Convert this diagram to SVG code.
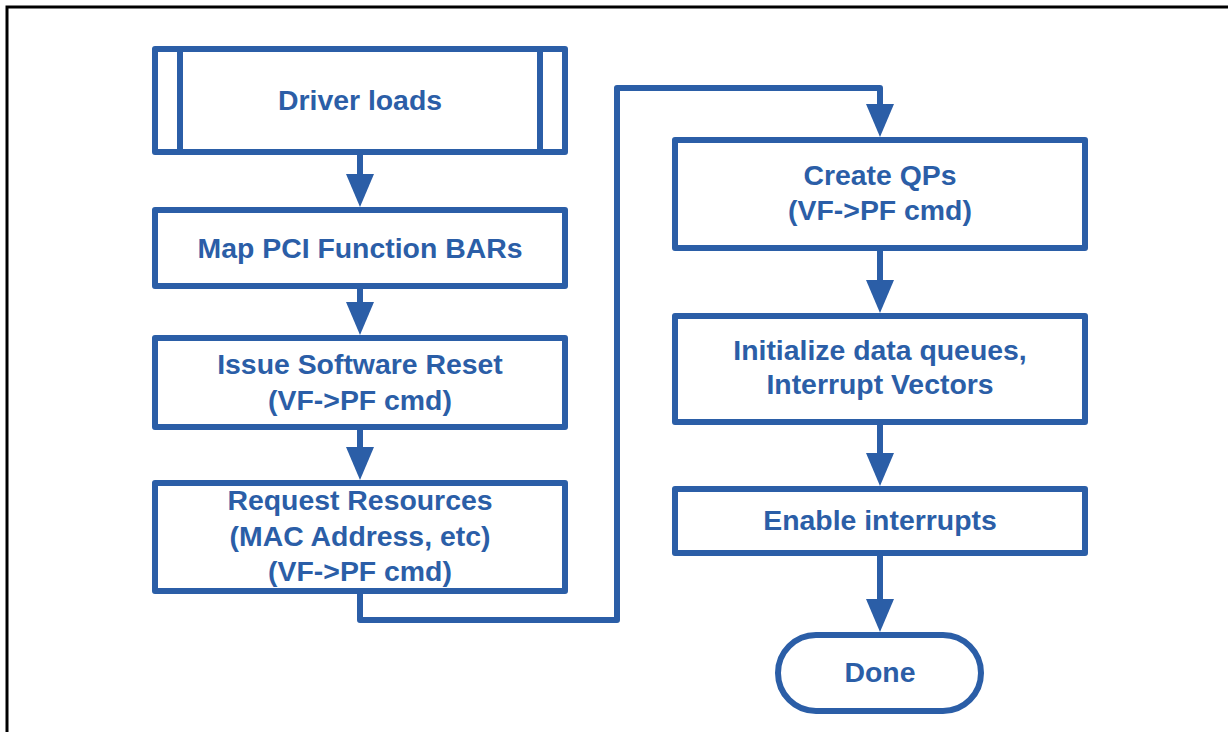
<svg xmlns="http://www.w3.org/2000/svg" width="1228" height="732" viewBox="0 0 1228 732">
<style>
.box{fill:#fff;stroke:#2B5EA7;stroke-width:6;stroke-linejoin:round}
.ln{fill:none;stroke:#2B5EA7;stroke-width:6;stroke-linejoin:round}
.con{fill:none;stroke:#2B5EA7;stroke-width:6;stroke-linejoin:round;marker-end:url(#ah)}
.t{font-family:"Liberation Sans",Arial,sans-serif;font-weight:bold;font-size:28.4px;fill:#2B5EA7;text-anchor:middle}
</style>
<defs>
<marker id="ah" markerUnits="userSpaceOnUse" markerWidth="33" markerHeight="28" viewBox="0 0 33 28" refX="0" refY="14" orient="auto">
<path d="M0,0 L33,14 L0,28 Z" fill="#2B5EA7"/>
</marker>
</defs>
<rect width="1228" height="732" fill="#fff"/>
<path d="M7,732 V7 H1228" fill="none" stroke="#000" stroke-width="3"/>
<g id="connectors">
<path class="con" d="M360,152 V174"/>
<path class="con" d="M360,286 V302"/>
<path class="con" d="M360,427 V447"/>
<path class="con" d="M360,591 V620 H617 V88 H880 V104"/>
<path class="con" d="M880,248 V280"/>
<path class="con" d="M880,422 V453"/>
<path class="con" d="M880,553 V599"/>
</g>
<g id="driver-loads">
<rect class="box" x="155" y="49" width="410" height="103"/>
<path class="ln" d="M180,49 V152 M540,49 V152"/>
<text class="t" x="360" y="110">Driver loads</text>
</g>
<g id="map-bars">
<rect class="box" x="155" y="210" width="410" height="76"/>
<text class="t" x="360" y="258">Map PCI Function BARs</text>
</g>
<g id="software-reset">
<rect class="box" x="155" y="338" width="410" height="89"/>
<text class="t" x="360" y="374">Issue Software Reset</text>
<text class="t" x="360" y="410">(VF-&gt;PF cmd)</text>
</g>
<g id="request-resources">
<rect class="box" x="155" y="483" width="410" height="108"/>
<text class="t" x="360" y="510">Request Resources</text>
<text class="t" x="360" y="546">(MAC Address, etc)</text>
<text class="t" x="360" y="581">(VF-&gt;PF cmd)</text>
</g>
<g id="create-qps">
<rect class="box" x="675" y="140" width="410" height="108"/>
<text class="t" x="880" y="185">Create QPs</text>
<text class="t" x="880" y="220">(VF-&gt;PF cmd)</text>
</g>
<g id="init-queues">
<rect class="box" x="675" y="316" width="410" height="106"/>
<text class="t" x="880" y="360">Initialize data queues,</text>
<text class="t" x="880" y="394">Interrupt Vectors</text>
</g>
<g id="enable-interrupts">
<rect class="box" x="675" y="489" width="410" height="64"/>
<text class="t" x="880" y="530">Enable interrupts</text>
</g>
<g id="done">
<rect class="box" x="778" y="635" width="203" height="76" rx="38" ry="38"/>
<text class="t" x="880" y="682">Done</text>
</g>
</svg>
